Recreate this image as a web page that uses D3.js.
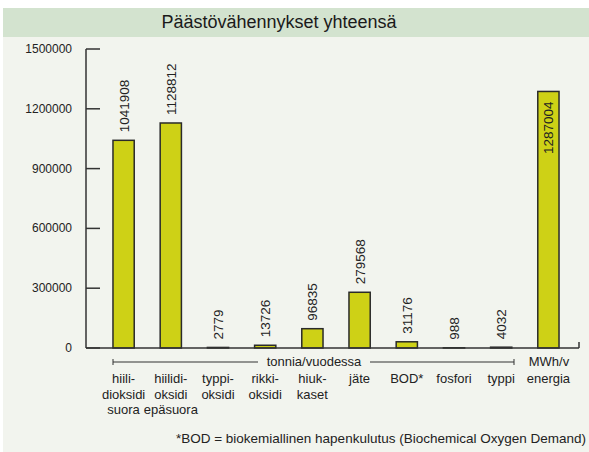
<!DOCTYPE html>
<html>
<head>
<meta charset="utf-8">
<script src="https://cdn.jsdelivr.net/npm/d3@7"></script>
<style>
  body { margin: 0; background: #fff; }
  text { font-family: "Liberation Sans", Arial, sans-serif; fill: #222; }
</style>
</head>
<body>
<svg id="chart" width="589" height="452"></svg>
<script>
// päästövähennykset
const kategoriat = [
  ["hiili-", "dioksidi", "suora"],
  ["hiilidi-", "oksidi", "epäsuora"],
  ["typpi-", "oksidi"],
  ["rikki-", "oksidi"],
  ["hiuk-", "kaset"],
  ["jäte"],
  ["BOD*"],
  ["fosfori"],
  ["typpi"],
  ["energia"]
];
const arvot = [1041908, 1128812, 2779, 13726, 96835, 279568, 31176, 988, 4032, 1287004];
const yTicks = [0, 300000, 600000, 900000, 1200000, 1500000];

const svg = d3.select("#chart");
const W = 589, H = 452;

// taustat
svg.append("rect").attr("x", 3).attr("y", 8).attr("width", W - 3).attr("height", H - 8)
  .attr("fill", "#f2f4ee");
svg.append("rect").attr("x", 3).attr("y", 8).attr("width", W - 3).attr("height", 29)
  .attr("fill", "#d3e3cf");
svg.append("text").attr("x", 279).attr("y", 28).attr("text-anchor", "middle")
  .style("font-size", "18px").style("fill", "#1a1a1a")
  .text("Päästövähennykset yhteensä");

const y = d3.scaleLinear().domain([0, 1500000]).range([348, 49]);
const x = d3.scaleBand().domain(d3.range(arvot.length)).range([100, 572]).paddingInner(0.55).paddingOuter(0.275);

// y-akseli
const ax = svg.append("g");
ax.append("line").attr("x1", 86).attr("x2", 86).attr("y1", y(1500000)).attr("y2", y(0))
  .attr("stroke", "#333").attr("stroke-width", 1.5);
ax.selectAll(".tick").data(yTicks).enter().append("line")
  .attr("x1", 86).attr("x2", 100).attr("y1", d => y(d)).attr("y2", d => y(d))
  .attr("stroke", "#333").attr("stroke-width", 1.5);
ax.selectAll(".lbl").data(yTicks).enter().append("text")
  .attr("x", 72).attr("y", d => y(d) + 4).attr("text-anchor", "end")
  .style("font-size", "12px")
  .text(d => d);

// pylväät
svg.selectAll(".bar").data(arvot).enter().append("rect")
  .attr("x", (d, i) => x(i)).attr("width", x.bandwidth())
  .attr("y", d => y(d)).attr("height", d => y(0) - y(d))
  .attr("fill", "#ced116").attr("stroke", "#2a2a2a").attr("stroke-width", 1.5);

// pohjaviiva
svg.append("line").attr("x1", 86).attr("x2", 579).attr("y1", y(0)).attr("y2", y(0))
  .attr("stroke", "#333").attr("stroke-width", 1.5);
svg.append("line").attr("x1", 579).attr("x2", 579).attr("y1", y(0)).attr("y2", y(0) - 6)
  .attr("stroke", "#333").attr("stroke-width", 1.5);

// arvotekstit
svg.selectAll(".val").data(arvot).enter().append("text")
  .attr("transform", (d, i) => {
    const cx = x(i) + x.bandwidth() / 2 + 5;
    const inside = y(d) < 100;
    const yy = inside ? y(d) + 10 : y(d) - 8;
    return `translate(${cx},${yy}) rotate(-90)`;
  })
  .attr("text-anchor", (d) => y(d) < 100 ? "end" : "start")
  .style("font-size", "13.5px")
  .text(d => d);

// yksikköviivat
const yl = 362;
svg.append("line").attr("x1", 113).attr("x2", 514).attr("y1", yl).attr("y2", yl)
  .attr("stroke", "#333").attr("stroke-width", 1);
[113, 514].forEach(xx => svg.append("line").attr("x1", xx).attr("x2", xx)
  .attr("y1", yl - 3).attr("y2", yl + 3).attr("stroke", "#333").attr("stroke-width", 1));
svg.append("rect").attr("x", 258).attr("y", yl - 8).attr("width", 112).attr("height", 16)
  .attr("fill", "#f2f4ee");
svg.append("text").attr("x", 314).attr("y", 366).attr("text-anchor", "middle")
  .style("font-size", "13px").text("tonnia/vuodessa");
svg.append("text").attr("x", 549).attr("y", 366).attr("text-anchor", "middle")
  .style("font-size", "13px").text("MWh/v");

// kategoriat
svg.selectAll(".cat").data(kategoriat).enter().append("text")
  .attr("x", (d, i) => x(i) + x.bandwidth() / 2)
  .attr("y", 383)
  .attr("text-anchor", "middle")
  .style("font-size", "13px")
  .selectAll("tspan").data(d => d).enter().append("tspan")
  .attr("x", function () { return d3.select(this.parentNode).attr("x"); })
  .attr("dy", (d, j) => j === 0 ? 0 : 15.5)
  .text(d => d);

svg.append("text").attr("x", 586).attr("y", 443).attr("text-anchor", "end")
  .style("font-size", "13.5px")
  .text("*BOD = biokemiallinen hapenkulutus (Biochemical Oxygen Demand)");
</script>
</body>
</html>
